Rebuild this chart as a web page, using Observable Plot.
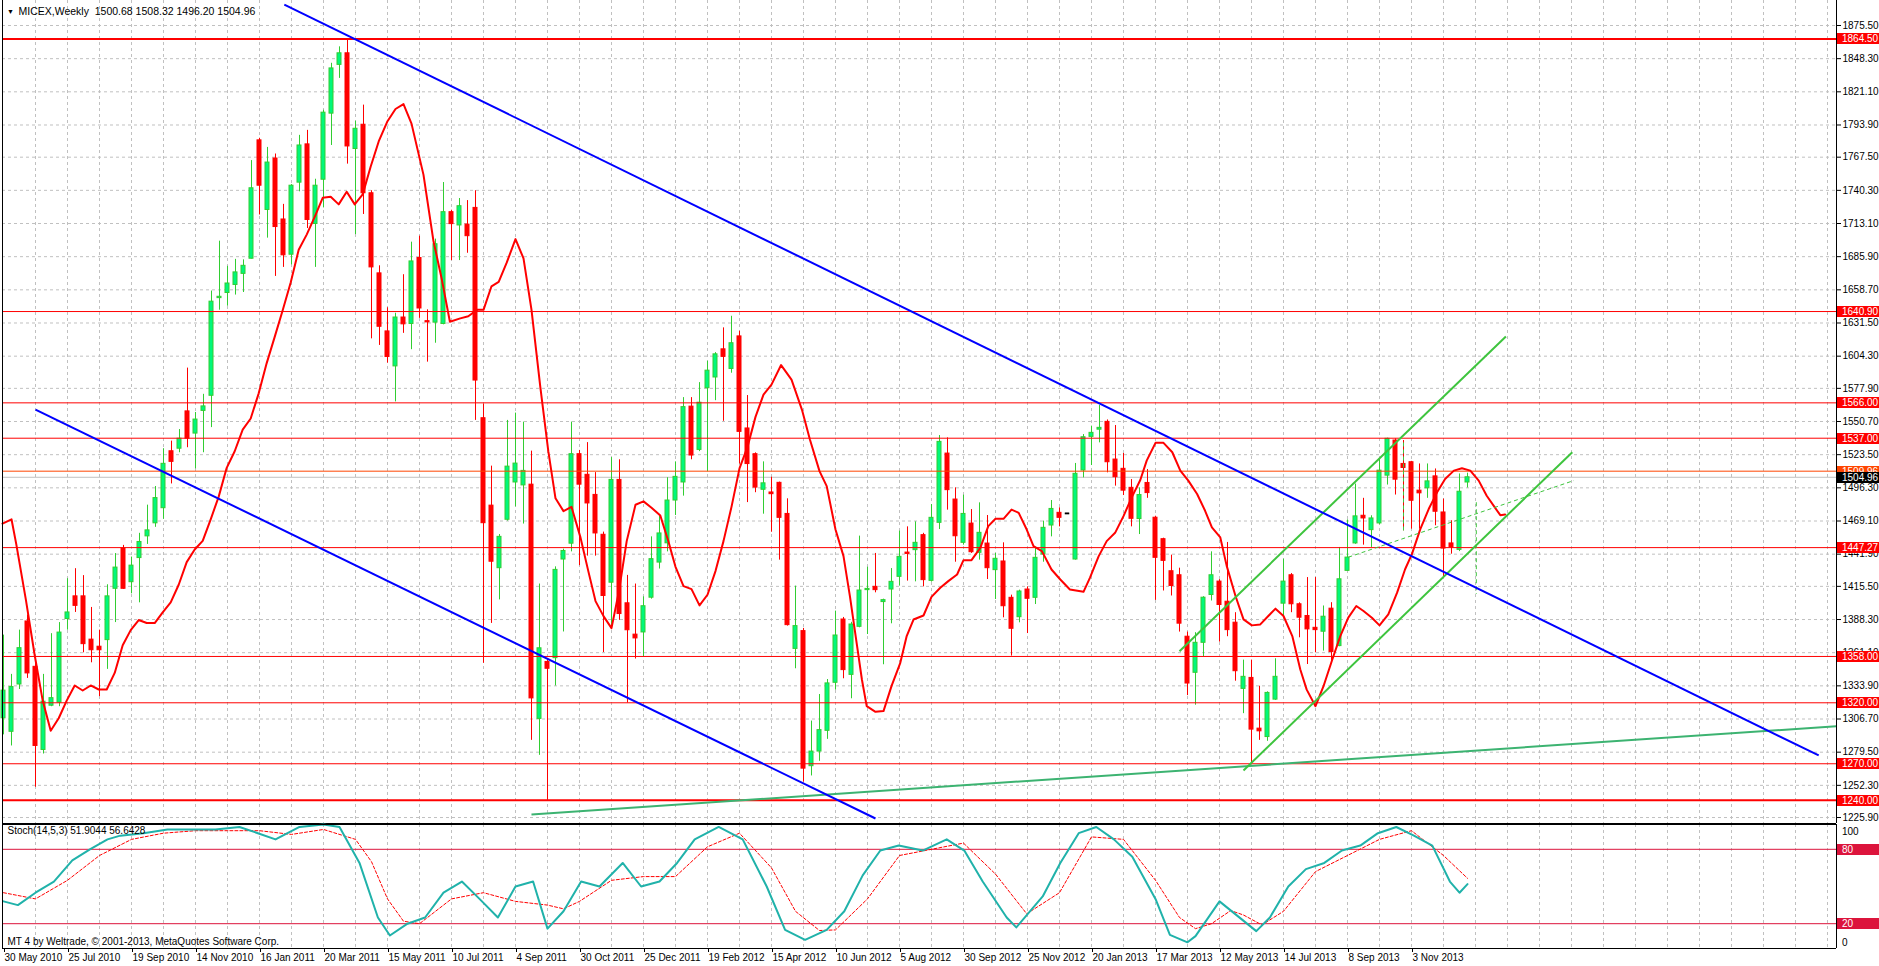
<!DOCTYPE html>
<html><head><meta charset="utf-8">
<script src="https://cdn.jsdelivr.net/npm/d3@7"></script>
<script src="https://cdn.jsdelivr.net/npm/@observablehq/plot@0.6"></script>
<style>
html,body{margin:0;padding:0;background:#fff;}
#wrap{position:relative;width:1879px;height:966px;overflow:hidden;background:#fff;}
#wrap svg{position:absolute;left:0;}
</style></head><body><div id="wrap"></div>
<script>
// ---------- DATA ----------
const opens=[1307.3,1296.2,1335.0,1386.7,1349.5,1281.3,1317.6,1320.1,1388.7,1407.3,1407.3,1371.8,1366.0,1371.4,1413.5,1446.6,1418.9,1438.7,1456.5,1467.2,1479.6,1526.3,1528.4,1559.0,1540.8,1559.4,1571.8,1651.9,1656.1,1662.7,1671.8,1684.2,1781.3,1724.2,1766.4,1716.4,1687.5,1746.6,1778.0,1712.7,1749.0,1803.2,1843.2,1852.7,1774.2,1794.1,1737.9,1672.2,1624.6,1595.9,1636.0,1630.7,1684.8,1633,1631.8,1630.7,1722.4,1711.5,1712.2,1725.9,1553.4,1481.7,1430.4,1470.1,1500.7,1498.3,1498.9,1306.8,1353.5,1356.6,1437.5,1450.5,1523.9,1507.0,1490.5,1457.8,1418.5,1502.8,1401.6,1375.9,1377.7,1406.2,1435.0,1450.8,1485.9,1500.7,1562.9,1527.4,1578.0,1586.8,1609.9,1593.8,1620.5,1545.0,1523.9,1494.7,1492,1500.4,1474.9,1364.2,1378.8,1268,1280,1297,1336.4,1388.3,1342.9,1382.3,1412.4,1415.1,1402.6,1412.9,1423.3,1443.2,1445.2,1457.5,1420,1467.6,1524.4,1486.7,1451.2,1467.0,1443.0,1450.6,1428.8,1435.9,1406.1,1390.2,1412.9,1406.1,1441.6,1465.4,1475.8,1474.9,1437.5,1510.5,1538.1,1544.5,1550.4,1519.5,1511.9,1496.3,1470.7,1500.3,1471.8,1454.2,1427.9,1424.6,1374.2,1344.6,1369.2,1408.4,1419.4,1402.9,1385.7,1331.4,1340.4,1298.8,1291.9,1322.6,1401.3,1424.6,1400.8,1391.2,1381.5,1378.3,1397.2,1366.5,1428.2,1450.7,1473.4,1461.6,1467.1,1506.3,1535.1,1515.9,1517.3,1494.0,1495.9,1505.7,1476.1,1450.7,1445.4,1500.68];
const highs=[1375.5,1343.3,1379.6,1392,1358,1343.3,1376.7,1385.8,1421.8,1430,1424.3,1398.2,1379.6,1416.8,1442.4,1449.1,1439.5,1459,1482.1,1497.4,1528.4,1534.6,1544.1,1594.5,1558.1,1573,1657.7,1698.6,1678,1683.7,1683.3,1764.7,1783,1775.5,1770.1,1728.8,1745,1785.4,1789.5,1749.4,1806,1844.5,1858,1864.5,1797,1810.2,1740,1678.4,1644,1639.5,1671.1,1697.8,1702.7,1642.3,1700.3,1746.7,1724,1733.6,1731.9,1740,1565,1514.1,1458,1551.6,1557.6,1550.2,1526.4,1417.4,1356,1431.5,1446,1550.2,1527,1533.4,1508.8,1460,1521.1,1519.3,1424.5,1417.4,1406.9,1456.1,1473.6,1504.6,1517.6,1570.3,1570.3,1582.6,1600.1,1607.2,1627.5,1637.0,1624.7,1572,1525,1517.6,1505.0,1501,1487.3,1415.7,1381,1305,1326.8,1339.1,1395.2,1390,1386,1456.7,1431.2,1442.5,1405,1430.1,1460.8,1464.3,1468.4,1459,1482.6,1539.2,1537.3,1496.3,1490.3,1478.5,1484.0,1473.6,1442.5,1451.2,1408.3,1412.4,1415.1,1447.1,1469,1485.9,1479.9,1474.9,1516.3,1540.0,1546.9,1563.8,1552,1547.4,1524.5,1503.1,1496.3,1511.3,1473,1455,1441.1,1430.4,1378,1377.5,1407,1443.8,1421,1451.5,1393.9,1355,1355,1333.6,1329,1356.1,1437.8,1426,1402,1422.7,1422.7,1399.4,1402.1,1447.4,1470,1499.4,1487.7,1473.4,1520.0,1537,1536.5,1535.1,1518,1515.9,1515.9,1511.8,1487.1,1469.3,1507.7,1508.32];
const lows=[1293.7,1284.6,1330.9,1340,1250.7,1278,1316.8,1316.8,1379.6,1394.1,1361.0,1352.8,1325.1,1347.4,1385.8,1413,1409.4,1402,1449.9,1463.9,1470.5,1499.5,1525.1,1529.2,1511.9,1525.1,1545.7,1642.0,1645.3,1654.4,1656.5,1684,1720.1,1701.1,1669.7,1677.1,1679.2,1739.1,1709,1677.1,1725.9,1777.1,1832.1,1761.8,1704,1720.5,1618.5,1613.1,1598.6,1566.8,1623.0,1609.6,1635.3,1599.4,1614.9,1630,1682.7,1682.7,1688.7,1551.6,1352.4,1385.1,1404.4,1469,1480.7,1466.6,1289.2,1276.9,1240,1333.8,1378.1,1443.8,1432.5,1440.3,1440.3,1361.2,1382.3,1387.6,1319.8,1355.9,1357.7,1405,1429.7,1443.8,1473.6,1489.5,1519.3,1526,1509.5,1567.8,1550.9,1590.3,1515.8,1484.2,1492.3,1474.7,1459.9,1437.0,1382.9,1347.9,1255,1260,1272,1290,1330.4,1339.7,1323.3,1381.5,1376.0,1410.2,1351.2,1384.8,1415.7,1419.8,1419.2,1415.1,1419,1462.1,1478.0,1435.3,1449.3,1442.5,1437.0,1421.1,1404.7,1389.7,1358.3,1385.6,1376.8,1400.6,1435.3,1456.1,1464.3,1474.9,1437,1504.5,1514.6,1533.2,1508.6,1497.7,1490,1464.3,1458,1487.7,1404.0,1411.7,1407.6,1378.0,1325.9,1318.0,1357.7,1403.5,1369.8,1374.2,1337.7,1311.1,1270.5,1289.2,1288.4,1322,1391.2,1393.9,1373.3,1351.4,1361.0,1362.4,1353.3,1366,1428,1450,1449.3,1447.4,1466,1498.6,1490.4,1461.1,1462.4,1462.4,1487.7,1465.2,1422.7,1441.9,1444,1496.20];
const closes=[1330.0,1332.9,1364.8,1344.1,1284.6,1320.9,1323.8,1377.6,1394.1,1399.5,1368.1,1363.1,1363.1,1407.3,1430.9,1413.5,1432.5,1451.9,1461.4,1487.9,1516.0,1517.6,1536.6,1536.6,1552.3,1563.1,1649.0,1653.0,1663.9,1673.0,1678.4,1742.0,1744.1,1763.1,1710.2,1687.0,1744.1,1777.1,1716.0,1744.1,1804.0,1840.3,1852.7,1776.3,1790.8,1737.9,1677.1,1628.4,1603.6,1636.0,1630.4,1682.0,1643.4,1632,1696.1,1722.4,1712.6,1727.3,1702.7,1584.3,1467.3,1435.7,1456.1,1513.7,1516.2,1510.2,1323.6,1364.7,1347.9,1429.0,1444.5,1523.9,1498.9,1483.5,1458.9,1407.6,1502.8,1392.8,1379.5,1372.8,1399.2,1437.8,1458.9,1485.9,1505.3,1562.5,1522.8,1566.1,1592.4,1605.8,1603.7,1614.9,1542.2,1515.8,1496.5,1500.0,1491.6,1471.7,1383.7,1382.9,1266,1280,1297.6,1335.9,1375.2,1346.8,1384.2,1412.1,1413.4,1412.4,1404.2,1419.2,1439.7,1442.1,1451.2,1420.6,1471.7,1534.0,1494.4,1456.6,1474.9,1443.5,1459.4,1430.4,1438.1,1399.2,1380.7,1411.3,1405.3,1438.9,1463.5,1479.0,1471.7,1474.9,1507.8,1537.8,1541.4,1545.0,1517.3,1505.0,1494,1470.9,1490.4,1492.0,1438.9,1436.4,1415.8,1384.9,1335.8,1369.2,1406.2,1424.6,1400.2,1379.6,1345.9,1341.3,1298.0,1296.6,1328.1,1341.3,1419.4,1400.8,1389.8,1380.2,1379.6,1390.6,1361.6,1421.3,1439.1,1472.9,1471.2,1471.2,1510.4,1536.5,1503.0,1512.6,1485.7,1491.8,1501.6,1476.7,1446.5,1447.4,1493.1,1504.96];

// moving average (red line), read at vertices: bar index, price
const maBars=[-0.125,1,1.6,2.8,3.9,4.9,5.9,6.9,7.9,8.9,9.9,10.9,11.9,12.9,13.9,14.9,15.9,16.9,17.9,18.9,19.9,20.9,21.9,22.9,23.9,24.9,25.9,26.9,27.9,28.9,29.9,30.9,31.9,32.9,33.9,34.9,35.9,36.9,37.9,38.9,39.9,40.9,41.9,42.9,43.9,44.9,45.9,46.9,48,49,50,51,52.5,53.75,54.8,55.8,57.1,58.1,59.2,60,61,61.9,62.9,64,65,66,67.1,68.1,69,70,71,72.1,73.1,74,75,76,76.9,77.9,79,80,81,82.1,83.1,84,85,86,87,88,89,90,91,92,93,94,95,96,97.2,98.5,99,99.8,100.8,102,102.9,104,105,105.8,106.7,107.3,107.9,109,110,111,112.1,112.9,113.75,115,116,117.1,118.1,119.2,120,121,122.1,123.1,124,125,126,126.9,127.9,128.75,129.8,131,132.1,133.3,135,135.8,136.9,137.9,138.95,140,141,142.1,142.9,144,145,146.1,147.1,148.1,149.2,150.2,151.05,152.1,152.9,154,155,156.05,157.1,158.1,159,160,161.1,162.1,162.9,164,165,166.1,167.1,168.1,169.1,170,171.05,172,173.1,174.2,175.2,176.05,177.1,178.15,179.2,180.2,181.3,182.3,183.35,184.4,185.4,186.5,187.1,187.7];
const maVals=[1467,1470.5,1449.9,1404.4,1359,1321.8,1297,1307.3,1321.8,1334.2,1330.1,1334.2,1330.9,1330.9,1344.5,1367.2,1379.6,1387.9,1385.4,1385.4,1394.1,1402.3,1416.8,1435.4,1445.7,1452.8,1470.5,1489.1,1512.7,1526.3,1544.1,1553.2,1573.8,1598.6,1620.1,1642.0,1664.7,1691.6,1704.0,1718.5,1734.2,1735.0,1728.8,1739.1,1728.8,1737.0,1759.8,1780.4,1797.0,1807,1811,1795,1753.0,1698.5,1666.9,1632.5,1635.3,1637.0,1642.3,1642.3,1661.6,1665.2,1681.0,1700.3,1684.5,1642.3,1579.1,1526.4,1487.7,1477.2,1480.7,1456.1,1428.0,1403.4,1391.1,1381.2,1410.4,1452.6,1482.4,1485.2,1480.0,1473.6,1452.6,1431.5,1415.7,1413.2,1399.9,1408.6,1428.0,1452.6,1480.7,1512.3,1529.9,1554.5,1572.8,1581,1597,1585,1575.6,1560.5,1535.9,1510.0,1497.7,1462.1,1440.3,1407.5,1366.5,1339.1,1317.3,1312.6,1313.2,1333.7,1352.8,1374.7,1388.3,1391.6,1406.9,1414.3,1419.8,1425.2,1437.0,1437.0,1447.1,1464.9,1470.9,1470.9,1478.5,1475.8,1462.1,1448.5,1444.4,1429.3,1421.1,1412.9,1411.0,1422.5,1440.3,1452.6,1459.4,1473.1,1488.1,1502.7,1518.6,1533.2,1533.2,1525.5,1510.4,1502.2,1491.2,1477.5,1463.8,1455.6,1432.3,1407.6,1388.4,1383.5,1384.3,1391.2,1397.2,1391.2,1374.7,1347.3,1330.8,1317.2,1333.6,1355.5,1374.7,1389.8,1399.4,1395.3,1389.8,1383.5,1392.5,1410.3,1429.5,1441.9,1462.4,1478.9,1492.6,1503.5,1510.4,1512.3,1510.4,1502.2,1489.8,1479.4,1473.9,1474.4];

// stochastic main and signal lines (bar index, value)
const stochBars=[0,1.8,4,6.3,8.6,10.8,13,14.6,17.5,20.5,23.5,26.5,29.5,31.8,34,37,40,42,44.5,46.8,48.3,50.5,52.7,55,57.3,59.5,61.8,64,66.2,68,70,72.2,74.5,77.4,79.7,82,84.2,86.4,89.4,92.4,95.4,97.7,100.2,102.9,105.1,107.4,109.6,111.9,114.9,117.9,120.1,122.4,125.4,126.6,129.9,132.1,134.4,136.6,138.8,141.1,144,145.8,148,149,152,156.6,158.3,160.6,162.8,165.1,167.3,169.6,171.8,174.1,176.3,178.6,180.8,182,183];
const stochMain=[38,35,45,54,71,80,88,91,93,96,96,96,98,93,88,98,100,98,69,25,10.5,20,25,45,54,40,25,50,54,16,30,54,50,69,50,54,69,88,98,88,50,15,7,15,30,59,79,83,79,88,79,54,25,17,42,69,93,98,88,74,40,11,5,10,38,14,25,50,64,69,79,83,93,98,91,83,54,45,51.9];
const sigBars=[0,4,8,12,16,20,24,28,32,36,40,44,46,48,50,52,56,60,64,68,70,72,76,80,84,88,92,96,99,102,104,108,112,116,120,124,127.9,132,136,140,144,147,149,151,153.4,155,157.3,160,164,168,172,176,180,183];
const stochSig=[45,40,55,75,88,93,95,95,95,92,96,88,70,40,22,20,40,45,38,35,32,38,55,58,58,82,93,65,30,14.5,15,40,75,80,85,60,28,45,90,88,55,25,16,20,30.6,27,19,30,62,75,88,95,75,56.6];

// horizontal levels and trend lines
const levels=[1864.50,1640.90,1566.00,1537.00,1447.27,1358.00,1320.00,1270.00,1240.00];
const levelOrange=1509.96, bidPrice=1504.96;
const blueLines=[{b1:35.1,p1:1892.7,b2:226.9,p2:1276.8},{b1:4.0,p1:1560.5,b2:109.0,p2:1225.1}];
const seaLines=[{b1:66.0,p1:1228.4,b2:229.1,p2:1300.8}];
const limeLines=[{b1:155.0,p1:1264.5,b2:196.1,p2:1525.5},{b1:147.0,p1:1362.3,b2:187.8,p2:1620.4}];
const dashLines=[{b1:168.1,p1:1439.4,b2:196.3,p2:1502.3},{b1:175,p1:1533.5,b2:175,p2:1459.7},{b1:184.1,p1:1484.5,b2:184.1,p2:1409.3}];

const yTicks=[1225.9,1252.3,1279.5,1306.7,1333.9,1361.1,1388.3,1415.5,1441.9,1469.1,1496.3,1523.5,1550.7,1577.9,1604.3,1631.5,1658.7,1685.9,1713.1,1740.3,1767.5,1793.9,1821.1,1848.3,1875.5];
const dateBars=[0,8,16,24,32,40,48,56,64,72,80,88,96,104,112,120,128,136,144,152,160,168,176];
const dateLabels=["30 May 2010","25 Jul 2010","19 Sep 2010","14 Nov 2010","16 Jan 2011","20 Mar 2011","15 May 2011","10 Jul 2011","4 Sep 2011","30 Oct 2011","25 Dec 2011","19 Feb 2012","15 Apr 2012","10 Jun 2012","5 Aug 2012","30 Sep 2012","25 Nov 2012","20 Jan 2013","17 Mar 2013","12 May 2013","14 Jul 2013","8 Sep 2013","3 Nov 2013"];
const titleText="MICEX,Weekly  1500.68 1508.32 1496.20 1504.96";
const stochTitle="Stoch(14,5,3) 51.9044 56.6428";
const copyText="MT 4 by Weltrade, © 2001-2013, MetaQuotes Software Corp.";

(function(){
// ---------- LAYOUT ----------
const W=1879, PH=823, SH=143;
const xDom=[-0.125,229.125];
const yDom=[1221.0,1896.0];
const font="'Liberation Sans', Arial, sans-serif";
const GREEN="#32cd32", BODYG="#00f77b", RED="#ff0000", GRID="#c0c0c0";

const bars=opens.map((o,i)=>({i,o,h:highs[i],l:lows[i],c:closes[i]}));
const minH=0.5;
const bodyTop=d=>Math.max(d.o,d.c)+(Math.abs(d.o-d.c)<1?minH:0);
const bodyBot=d=>Math.min(d.o,d.c)-(Math.abs(d.o-d.c)<1?minH:0);
const up=bars.filter(d=>d.c>d.o), dn=bars.filter(d=>d.c<d.o), fl=bars.filter(d=>d.c===d.o);
const ma=maBars.map((b,k)=>({b,v:maVals[k]}));
const sm=stochBars.map((b,k)=>({b,v:stochMain[k]}));
const ss=sigBars.map((b,k)=>({b,v:stochSig[k]}));
const gridBars=d3.range(4,229,4);
const labelOf=new Map(dateBars.map((b,k)=>[b,dateLabels[k]]));

const link=(data,o)=>Plot.link(data,{x1:"b1",y1:"p1",x2:"b2",y2:"p2",...o});

const price=Plot.plot({
  width:W,height:PH,marginLeft:2,marginRight:W-1836,marginTop:0,marginBottom:0,
  x:{domain:xDom,axis:null,label:null},
  y:{domain:yDom,axis:null,label:null},
  style:{fontFamily:font,fontSize:"10px",background:"transparent",overflow:"visible",color:"#000"},
  marks:[
    Plot.gridY(yTicks,{stroke:GRID,strokeOpacity:1,strokeDasharray:"3,3"}),
    Plot.gridX(gridBars,{stroke:GRID,strokeOpacity:1,strokeDasharray:"3,3"}),
    Plot.ruleY([bidPrice],{stroke:"#c0c0c0",strokeWidth:1}),
    Plot.ruleX(up,{x:"i",y1:"l",y2:"h",stroke:GREEN}),
    Plot.ruleX(dn,{x:"i",y1:"l",y2:"h",stroke:RED}),
    Plot.rect(up,{x1:d=>d.i-0.25,x2:d=>d.i+0.25,y1:bodyBot,y2:bodyTop,fill:BODYG,stroke:GREEN,strokeWidth:1}),
    Plot.rect(dn,{x1:d=>d.i-0.25,x2:d=>d.i+0.25,y1:bodyBot,y2:bodyTop,fill:RED,stroke:RED,strokeWidth:1}),
    Plot.rect(fl,{x1:d=>d.i-0.25,x2:d=>d.i+0.25,y1:bodyBot,y2:bodyTop,fill:"#000",stroke:"#000",strokeWidth:0.5}),
    Plot.ruleY(levels,{stroke:RED,strokeWidth:d=>(d===1864.5||d===1240)?2:1}),
    Plot.ruleY([levelOrange],{stroke:"#ff4500",strokeWidth:1}),
    Plot.line(ma,{x:"b",y:"v",stroke:RED,strokeWidth:2}),
    link(seaLines,{stroke:"#3cb371",strokeWidth:2}),
    link(limeLines,{stroke:"#3ec43e",strokeWidth:2}),
    link(dashLines,{stroke:"#3ec43e",strokeWidth:1,strokeDasharray:"4,3"}),
    link(blueLines,{stroke:"#0000ff",strokeWidth:2}),
    Plot.ruleX([xDom[0],xDom[1]],{stroke:"#000",strokeWidth:1}),
    Plot.ruleY([yDom[0]],{stroke:"#000",strokeWidth:1}),
    Plot.axisY(yTicks,{anchor:"right",label:null,tickSize:4,tickPadding:2,tickFormat:d=>d.toFixed(2),fill:"#000"}),
    Plot.text([titleText],{frameAnchor:"top-left",text:d=>d,dx:16,dy:11,textAnchor:"start",lineAnchor:"middle",fill:"#000",fontSize:10.5}),
    Plot.text(["▼"],{frameAnchor:"top-left",text:d=>d,dx:8,dy:11,textAnchor:"middle",lineAnchor:"middle",fill:"#000",fontSize:7})
  ]
});

const stoch=Plot.plot({
  width:W,height:SH,marginLeft:2,marginRight:W-1836,marginTop:1,marginBottom:SH-125,
  x:{domain:xDom,axis:null,label:null},
  y:{domain:[0,100],axis:null,label:null},
  style:{fontFamily:font,fontSize:"10px",background:"transparent",overflow:"visible",color:"#000"},
  marks:[
    Plot.gridX(gridBars,{stroke:GRID,strokeOpacity:1,strokeDasharray:"3,3"}),
    Plot.ruleY([80,20],{stroke:"#dc143c",strokeWidth:1}),
    Plot.line(ss,{x:"b",y:"v",stroke:RED,strokeWidth:1,strokeDasharray:"3,2"}),
    Plot.line(sm,{x:"b",y:"v",stroke:"#20b2aa",strokeWidth:2}),
    Plot.ruleX([xDom[0],xDom[1]],{stroke:"#000",strokeWidth:1}),
    Plot.ruleY([0,100],{stroke:"#000",strokeWidth:1}),
    Plot.axisX(dateBars,{anchor:"bottom",label:null,tickSize:4,tickPadding:1,tickFormat:d=>labelOf.get(d),textAnchor:"start",dx:1,fill:"#000"}),
    Plot.text([stochTitle],{frameAnchor:"top-left",text:d=>d,dx:5,dy:6,textAnchor:"start",lineAnchor:"middle",fill:"#000",fontSize:10}),
    Plot.text([copyText],{frameAnchor:"bottom-left",text:d=>d,dx:5,dy:-7,textAnchor:"start",lineAnchor:"middle",fill:"#000",fontSize:10})
  ]
});

const wrap=document.getElementById("wrap");
price.style.top="0px"; stoch.style.top=PH+"px";
wrap.appendChild(price); wrap.appendChild(stoch);

function box(svg,scaleY,v,txt,fill,color){
  const y=Math.round(scaleY(v));
  const g=d3.select(svg).append("g").attr("text-anchor","start");
  g.append("rect").attr("x",1837).attr("y",y-5).attr("width",42).attr("height",11).attr("fill",fill);
  g.append("text").attr("x",1842).attr("y",y+0.5).attr("dy","0.36em").attr("fill",color)
    .attr("text-anchor","start").attr("font-family",font).attr("font-size",10).text(txt);
}
const sy=v=>price.scale("y").apply(v);
for(const v of levels) box(price,sy,v,v.toFixed(2),RED,"#fff");
box(price,sy,levelOrange,levelOrange.toFixed(2),"#ff4500","#fff");
box(price,sy,bidPrice,bidPrice.toFixed(2),"#000","#fff");

const st=v=>stoch.scale("y").apply(v);
box(stoch,st,80,"80","#dc143c","#fff");
box(stoch,st,20,"20","#dc143c","#fff");
const sg=d3.select(stoch).append("g").attr("text-anchor","start").attr("font-family",font).attr("font-size",10).attr("fill","#000");
sg.append("text").attr("x",1842).attr("y",st(100)+7).attr("dy","0.36em").text("100");
sg.append("text").attr("x",1842).attr("y",st(0)-6).attr("dy","0.36em").text("0");
})();
</script></body></html>
